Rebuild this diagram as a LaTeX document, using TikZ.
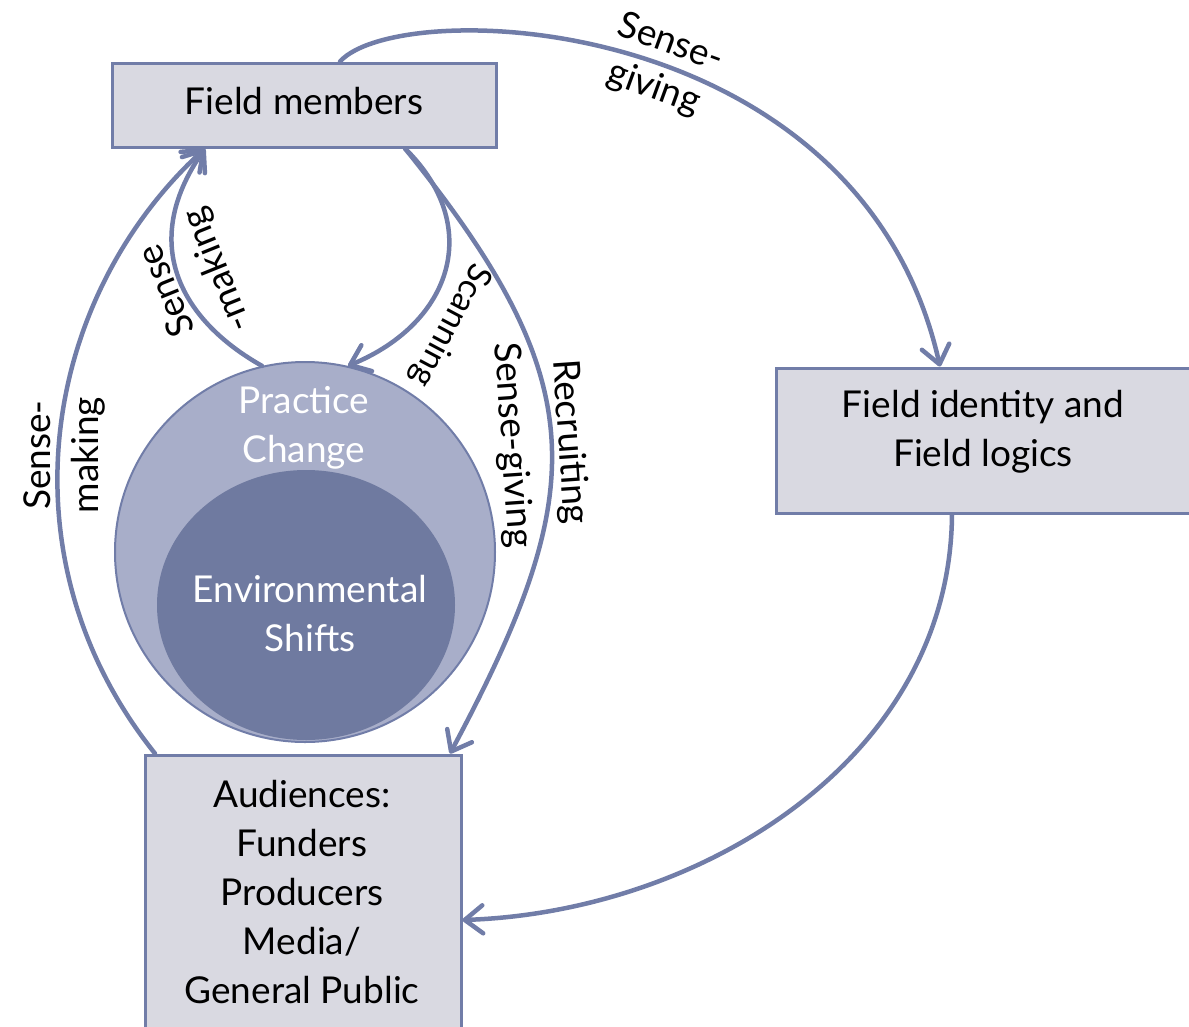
\documentclass[tikz,border=0pt]{standalone}
\usepackage{fontspec}
\setmainfont{Lato}
\usetikzlibrary{arrows.meta,shapes.geometric,calc}
\definecolor{edge}{HTML}{717DA8}
\definecolor{boxfill}{HTML}{D9D9E1}
\definecolor{outerfill}{HTML}{A8AEC9}
\definecolor{innerfill}{HTML}{6F7AA0}
\begin{document}
\begin{tikzpicture}[x=1pt,y=-1pt,
  box/.style={draw=edge, fill=boxfill, line width=3pt, inner sep=0pt},
  txt/.style={font=\fontsize{37}{49}\selectfont, align=center, inner sep=0pt},
  wtxt/.style={txt, text=white},
  lbl/.style={font=\fontsize{37}{48}\selectfont, align=center, inner sep=0pt},
  flow/.style={draw=edge, line width=4.5pt, line cap=round,
    -{Straight Barb[round, length=18pt, width=28pt]}}]
\useasboundingbox (0,0) rectangle (1189,1026);

% boxes
\node[box, minimum width=384pt, minimum height=84pt] (fm) at (304,105) {};
\node[txt] (fmtext) at (304,101) {Field members};
\node[box, minimum width=416pt, minimum height=145pt] (fi) at (984,440.5) {};
\node[txt] (fitext) at (983,432) {Field identity and\\Field logics};
\node[box, minimum width=316pt, minimum height=275pt] (aud) at (303,892.5) {};
\node[txt] (audtext) at (302,892) {Audiences:\\Funders\\Producers\\Media/\\General Public};

% practice change and environmental shifts
\node[circle, draw=edge, fill=outerfill, line width=2pt, minimum size=380pt, inner sep=0pt] (pc) at (305,552) {};
\node[ellipse, fill=innerfill, minimum width=298pt, minimum height=270pt, inner sep=0pt] (es) at (306,605) {};
\node[wtxt] (pctext) at (304,428) {Practice\\Change};
\node[wtxt] (estext) at (310,614) {Environmental\\Shifts};

% connectors
\draw[flow] ([xshift=36pt]fm.north) .. controls (400,-5) and (860,10) .. ([xshift=-44pt]fi.north);
\draw[flow] ([xshift=-32pt]fi.south) .. controls (950,760) and (700,912) .. ([yshift=-27.5pt]aud.east);
\draw[flow] ([xshift=-148pt]aud.north) .. controls (0,560) and (40,300) .. ([xshift=-99pt]fm.south);
\draw[flow] (pc.103) .. controls (184,322) and (137,246) .. ([xshift=-99pt]fm.south);
\draw[flow] ([xshift=101pt]fm.south) .. controls (484,226) and (452,323) .. (pc.77);
\draw[flow] ([xshift=101pt]fm.south) .. controls (594,382) and (591,490) .. ([xshift=147pt]aud.north);

% connector labels
\node[lbl, rotate=-20] (sgtop) at (662,66) {Sense-\\giving};
\node[lbl, rotate=90] (smout) at (64,455) {Sense-\\making};
\node[lbl, rotate=112] (sminner) at (193,280) {Sense\\[6pt]-making};
\node[lbl, rotate=-118, font=\fontsize{34}{44}\selectfont] (scan) at (450,325) {Scanning};
\node[lbl, rotate=-86] (sgright) at (512,445) {Sense-giving};
\node[lbl, rotate=-86] (recr) at (569,442) {Recruiting};
\end{tikzpicture}
\end{document}
